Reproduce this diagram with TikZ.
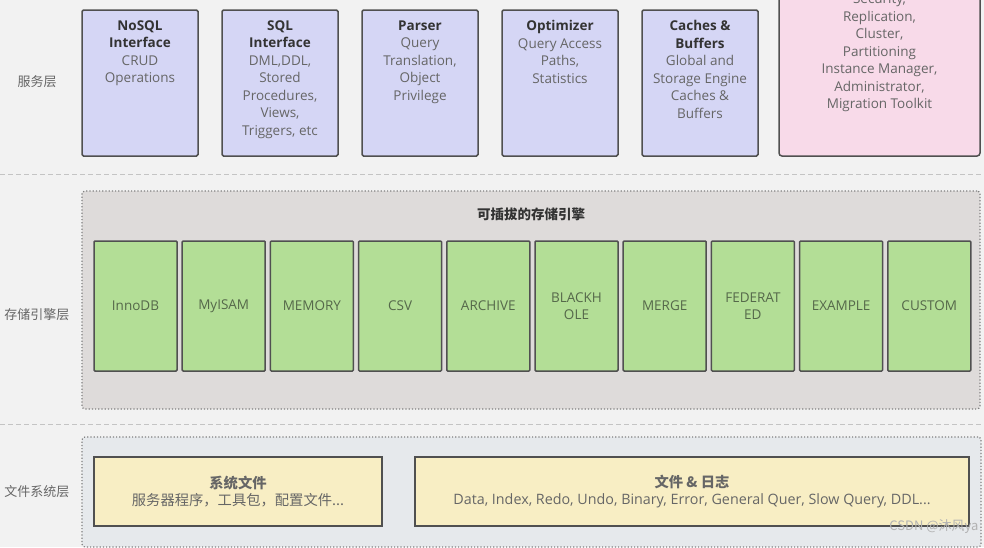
\documentclass[tikz,border=0pt]{standalone}
\usepackage{fontspec}
\setmainfont{Open Sans}
\newfontfamily\cjk{Noto Sans CJK SC}
\usepackage{tikz}
\usetikzlibrary{positioning,chains}
\definecolor{PageGray}{HTML}{F2F2F2}
\definecolor{SvcFill}{HTML}{D5D6F5}
\definecolor{PinkFill}{HTML}{F8DAE9}
\definecolor{EngFill}{HTML}{B3DE96}
\definecolor{PlugFill}{HTML}{DEDBDA}
\definecolor{FsFill}{HTML}{E6E9EC}
\definecolor{FileFill}{HTML}{F8EEC4}
\definecolor{EdgeGray}{HTML}{505050}
\definecolor{TitleGray}{HTML}{333333}
\definecolor{BodyGray}{HTML}{666666}
\definecolor{EngText}{HTML}{55684A}
\definecolor{SepGray}{HTML}{C4C4C4}
\tikzset{
  svcbox/.style={draw=EdgeGray, fill=SvcFill, line width=1.5pt, rounded corners=1.5pt,
                 minimum width=116pt, minimum height=146pt, inner sep=0pt},
  toolbox/.style={svcbox, fill=PinkFill, minimum width=201pt, minimum height=186pt, rounded corners=3pt},
  svctext/.style={align=center, anchor=north, inner sep=0pt, text=BodyGray,
                 font=\fontsize{13.5}{17.5}\selectfont},
  engbox/.style={draw=EdgeGray, fill=EngFill, line width=1.5pt, rounded corners=1pt,
                 minimum width=83pt, minimum height=130pt, inner sep=0pt, align=center,
                 text=EngText, font=\fontsize{13.5}{17}\selectfont},
  groupbox/.style={draw=gray, dotted, line width=1.2pt, rounded corners=3pt, inner sep=0pt},
  filebox/.style={draw=EdgeGray, fill=FileFill, line width=1.5pt, minimum height=69pt,
                 inner sep=0pt, align=center, text=BodyGray, font=\fontsize{14.3}{17}\selectfont},
  layerlbl/.style={text=BodyGray, font=\cjk\fontsize{13}{15}\selectfont},
  sepline/.style={draw=SepGray, line width=1pt, dash pattern=on 5pt off 3pt}
}
\newcommand{\ttl}[1]{{\bfseries\color{TitleGray}#1}}

\begin{document}
\begin{tikzpicture}[x=1pt, y=-1pt, start chain=going right, node distance=22.5pt]
\fill[PageGray] (0,0) rectangle (984,547);
\useasboundingbox (0,0) rectangle (984,547);
\clip (0,0) rectangle (984,547);

\node[layerlbl] (svclbl) at (37,82) {服务层};
\node[layerlbl] (englbl) at (37,315) {存储引擎层};
\node[layerlbl] (fslbl) at (37,492) {文件系统层};

\coordinate (sepa) at (0,174);
\coordinate (sepb) at (0,424);
\draw[sepline] (sepa) -- ++(984,0);
\draw[sepline] (sepb) -- ++(984,0);

% service layer
\node[svcbox, on chain] (nosql) at (140,83) {};
\node[svcbox, on chain] (sql) {};
\node[svcbox, on chain] (parser) {};
\node[svcbox, on chain] (optimizer) {};
\node[svcbox, on chain] (caches) {};
\node[toolbox, right=19.5pt of caches.south east, anchor=south west] (tools) {};

\node[svctext, below=11pt of nosql.north] (nosqltxt) {\ttl{NoSQL}\\\ttl{Interface}\\CRUD\\Operations};
\node[svctext, below=11pt of sql.north] (sqltxt) {\ttl{SQL}\\\ttl{Interface}\\DML,DDL,\\Stored\\Procedures,\\Views,\\Triggers, etc};
\node[svctext, below=11pt of parser.north] (parsertxt) {\ttl{Parser}\\Query\\Translation,\\Object\\Privilege};
\node[svctext, below=11pt of optimizer.north] (optimizertxt) {\ttl{Optimizer}\\Query Access\\Paths,\\Statistics};
\node[svctext, below=11pt of caches.north] (cachestxt) {\ttl{Caches \&}\\\ttl{Buffers}\\Global and\\Storage Engine\\Caches \&\\Buffers};
\node[svctext, anchor=center] (toolstxt) at (879.5,53) {Security,\\Replication,\\Cluster,\\Partitioning\\Instance Manager,\\Administrator,\\Migration Toolkit};

% storage engine layer
\node[groupbox, fill=PlugFill, minimum width=898pt, minimum height=218pt] (plug) at (531,300) {};
\node[below=17pt of plug.north, inner sep=0pt, text=TitleGray, font=\cjk\bfseries\fontsize{13.5}{15}\selectfont] (plugtitle) {可插拔的存储引擎};

\begin{scope}[start chain=engines going right, node distance=3.7pt]
\node[engbox, on chain] (innodb) at (135.5,306) {InnoDB};
\node[engbox, on chain] (myisam) {MyISAM};
\node[engbox, on chain] (memory) {MEMORY};
\node[engbox, on chain] (csv) {CSV};
\node[engbox, on chain] (archive) {ARCHIVE};
\node[engbox, on chain] (blackhole) {BLACKH\\OLE};
\node[engbox, on chain] (merge) {MERGE};
\node[engbox, on chain] (federated) {FEDERAT\\ED};
\node[engbox, on chain] (example) {EXAMPLE};
\node[engbox, on chain] (custom) {CUSTOM};
\end{scope}

% file system layer
\node[groupbox, fill=FsFill, minimum width=899pt, minimum height=110pt] (fs) at (531.5,492) {};
\node[filebox, minimum width=288pt] (sysfile) at (238,491.5)
  {\cjk\textbf{系统文件}\\\cjk 服务器程序，工具包，配置文件...};
\node[filebox, minimum width=554pt] (logfile) at (692,491.5)
  {\cjk\textbf{文件 \& 日志}\\Data, Index, Redo, Undo, Binary, Error, General Quer, Slow Query, DDL...};

\node[text=gray!60, font=\cjk\fontsize{13}{15}\selectfont, anchor=east] (mark) at (982,527) {CSDN @沐风ya};
\end{tikzpicture}
\end{document}
